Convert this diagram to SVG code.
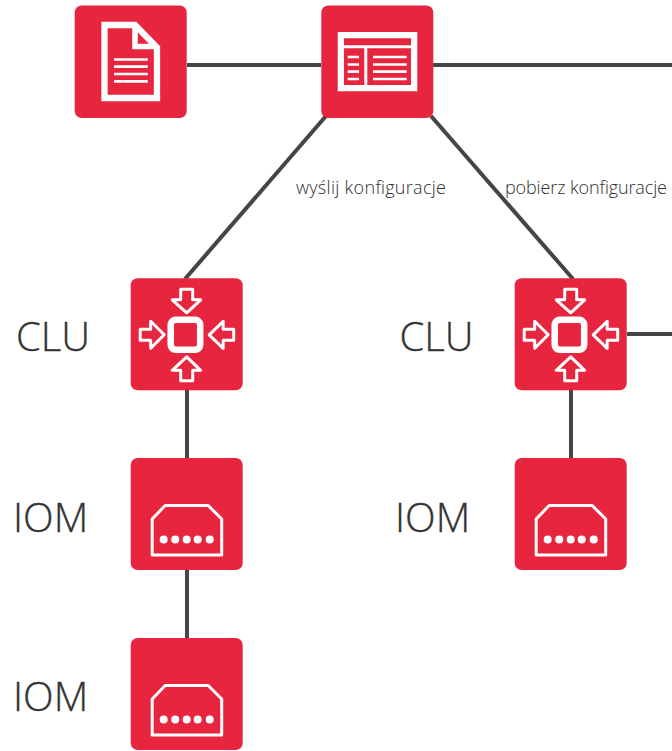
<svg xmlns="http://www.w3.org/2000/svg" width="672" height="751" viewBox="0 0 672 751">
<defs>
<style>
.box{fill:#e8253f}
.w{fill:none;stroke:#fff;stroke-miterlimit:10}
.a{fill:none;stroke:#fff;stroke-width:3;stroke-linejoin:round}
.wf{fill:#fff}
.conn{fill:none;stroke:#454545;stroke-width:4}
.big{font-family:"Open Sans","Liberation Sans",sans-serif;font-weight:300;font-size:40px;fill:#333;stroke:#333;stroke-width:.35px}
.small{font-family:"Open Sans","Liberation Sans",sans-serif;font-weight:300;font-size:18px;fill:#2e2e2e}
</style>
<g id="clu-icon">
<rect class="box" x="0" y="0" width="112" height="112" rx="7"/>
<rect class="w" x="40" y="41.500" width="29.500" height="30" rx="5" stroke-width="6.500"/>
<path class="a" d="M50 11H62V21.500H70L56 34.500L41.500 21.500H50Z"/>
<path class="a" d="M50 102.500H62V92H70L56 78.500L41.500 92H50Z"/>
<path class="a" d="M9.500 51H20V43L33.500 56.500L20 70V62H9.500Z"/>
<path class="a" d="M103 51H92.500V43L78.500 56.500L92.500 70V62H103Z"/>
</g>
<g id="iom-icon">
<rect class="box" x="0" y="0" width="112" height="112" rx="7"/>
<path class="a" d="M21.500 97H91V61L77.500 47.500H34.500L21.500 61Z"/>
<circle class="wf" cx="33" cy="81.500" r="4"/><circle class="wf" cx="44.500" cy="81.500" r="4"/><circle class="wf" cx="56" cy="81.500" r="4"/><circle class="wf" cx="67" cy="81.500" r="4"/><circle class="wf" cx="79" cy="81.500" r="4"/>
</g>
</defs>
<g id="connectors">
<path class="conn" d="M187 65H321"/>
<path class="conn" d="M433 65H672"/>
<path class="conn" d="M326 116L185 279"/>
<path class="conn" d="M431 116L573 279"/>
<path class="conn" d="M187 390V458"/>
<path class="conn" d="M187 570V638"/>
<path class="conn" d="M571 390V458"/>
<path class="conn" d="M627 334H672"/>
</g>
<g id="doc">
<rect class="box" x="74.700" y="5.500" width="112" height="112.500" rx="7"/>
<path class="w" stroke-width="6.300" d="M104.500 25H135L157 47.500V98H104.500Z"/>
<path class="w" stroke-width="5.500" d="M135 25V46.500H157"/>
<path class="w" stroke-width="2.700" d="M114 59.500H147.700M114 66.700H147.700M114 74H147.700M114 81.300H147.700"/>
</g>
<g id="config">
<rect class="box" x="321.300" y="5.500" width="112" height="112.500" rx="7"/>
<path class="wf" fill-rule="evenodd" d="M337.700 32H417.300V91.300H337.700ZM344 38.300V45.300H411V38.300ZM344 48.300V85H364.300V48.300ZM367.300 48.300V85H411V48.300Z"/>
<path class="w" stroke-width="2.700" d="M347.700 57H359M347.700 64.500H359M347.700 71.700H359M347.700 79H359M373 57H406.700M373 64.500H406.700M373 71.700H406.700M373 79H406.700"/>
</g>
<g id="clu1"><use href="#clu-icon" x="130.700" y="278.300"/><text class="big" x="16" y="351">CLU</text></g>
<g id="clu2"><use href="#clu-icon" x="514.700" y="278.300"/><text class="big" x="399.500" y="351">CLU</text></g>
<g id="iom1"><use href="#iom-icon" x="130.700" y="458"/><text class="big" x="13" y="532">IOM</text></g>
<g id="iom2"><use href="#iom-icon" x="514.700" y="458"/><text class="big" x="395" y="532">IOM</text></g>
<g id="iom3"><use href="#iom-icon" x="130.700" y="638"/><text class="big" x="13" y="711">IOM</text></g>
<text class="small" x="296" y="194" textLength="150">wyślij konfiguracje</text>
<text class="small" x="505" y="194" textLength="162">pobierz konfiguracje</text>
</svg>
